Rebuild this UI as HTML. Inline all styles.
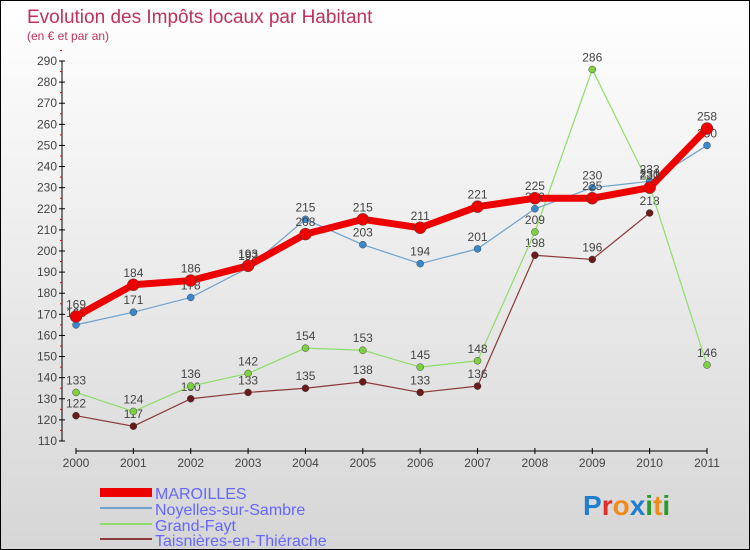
<!DOCTYPE html>
<html><head><meta charset="utf-8"><style>
body{margin:0}
#c{width:748px;height:548px;border:1px solid #000;background:linear-gradient(#fff,#d6d6d6);position:relative;font-family:"Liberation Sans",sans-serif}
</style></head><body>
<div id="c">
<svg id="s" width="748" height="548" style="position:absolute;left:0;top:0" font-family="Liberation Sans, sans-serif">
<text x="26" y="22" font-size="19" fill="#c0305a">Evolution des Impôts locaux par Habitant</text>
<text x="26" y="39" font-size="12" fill="#c0305a">(en € et par an)</text>
<g id="axes"></g><g id="series"></g>
<g>
<rect x="99" y="487" width="52" height="9" fill="#e00"/>
<text x="154" y="498" font-size="16" fill="#6666ff">MAROILLES</text>
<line x1="99" y1="507" x2="151" y2="507" stroke="#6fa2cc" stroke-width="2"/>
<text x="154" y="514" font-size="16" fill="#6666ff">Noyelles-sur-Sambre</text>
<line x1="99" y1="523" x2="151" y2="523" stroke="#8fdc6a" stroke-width="2"/>
<text x="154" y="530" font-size="16" fill="#6666ff">Grand-Fayt</text>
<line x1="99" y1="538" x2="151" y2="538" stroke="#8a3a3a" stroke-width="2"/>
<text x="154" y="545" font-size="16" fill="#6666ff">Taisnières-en-Thiérache</text>
</g>
<text x="582" y="514" font-size="28" font-weight="bold"><tspan fill="#1e7fd0">P</tspan><tspan fill="#e0302a">r</tspan><tspan fill="#f08a1a">o</tspan><tspan fill="#1e7fd0">x</tspan><tspan fill="#2a9a2a">i</tspan><tspan fill="#f08a1a">t</tspan><tspan fill="#2a9a2a">i</tspan></text>
</svg></div>
<script>
const years=[2000,2001,2002,2003,2004,2005,2006,2007,2008,2009,2010,2011];
const yTicks=[110,120,130,140,150,160,170,180,190,200,210,220,230,240,250,260,270,280,290];
const maroilles=[169,184,186,193,208,215,211,221,225,225,230,258];
const noyelles=[165,171,178,192,215,203,194,201,220,230,233,250];
const grandFayt=[133,124,136,142,154,153,145,148,209,286,231,146];
const taisnieres=[122,117,130,133,135,138,133,136,198,196,204218>0?218:218];
const NS="http://www.w3.org/2000/svg";
const X=i=>75+i*(706-75)/11;
const Y=v=>440-(v-110)*(380/180);
function mk(t,a,p){const e=document.createElementNS(NS,t);for(const k in a)e.setAttribute(k,a[k]);p.appendChild(e);return e;}
const ax=document.getElementById('axes');
const yl=mk('line',{x1:61,y1:Y(290),x2:61,y2:Y(110),stroke:'#000'},ax);


yTicks.forEach(v=>{
 mk('line',{x1:58,y1:Y(v),x2:64,y2:Y(v),stroke:'#000'},ax);
 mk('line',{x1:59,y1:Y(v+5),x2:61,y2:Y(v+5),stroke:'#e00'},ax);
 const t=mk('text',{x:56,y:Y(v)+4,'font-size':12,fill:'#444','text-anchor':'end'},ax);t.textContent=v;
 
 
});
const xl=mk('line',{x1:X(0),y1:450,x2:X(11),y2:450,stroke:'#000'},ax);


years.forEach((yr,i)=>{
 mk('line',{x1:X(i),y1:447,x2:X(i),y2:453,stroke:'#000'},ax);
 const t=mk('text',{x:X(i),y:466,'font-size':12,fill:'#444','text-anchor':'middle'},ax);t.textContent=yr;
 
 
});
const sg=document.getElementById('series');
function series(data,color,w,r,name,dot){
 const g=mk('g',{},sg);
 
 
 mk('polyline',{points:data.map((v,i)=>X(i)+','+Y(v)).join(' '),fill:'none',stroke:color,'stroke-width':w,'stroke-linejoin':'round'},g);
 data.forEach((v,i)=>{
  const c=mk('circle',{cx:X(i),cy:Y(v),r:r,fill:dot,stroke:'#444','stroke-width':0.5},g);
  
  
  const t=mk('text',{x:X(i),y:Y(v)-8,'font-size':12,fill:'#444','text-anchor':'middle'},g);t.textContent=v;
  
  
 });
}
series(taisnieres,'#8a3a3a',1.2,3.5,'series-taisnieres','#6a1a1a');
series(grandFayt,'#8fdc6a',1.2,3.5,'series-grand-fayt','#7dd040');
series(noyelles,'#6fa2cc',1.2,3.5,'series-noyelles','#3a88cc');
series(maroilles,'#e00',7,6,'series-maroilles','#e00');
</script>
</body></html>
